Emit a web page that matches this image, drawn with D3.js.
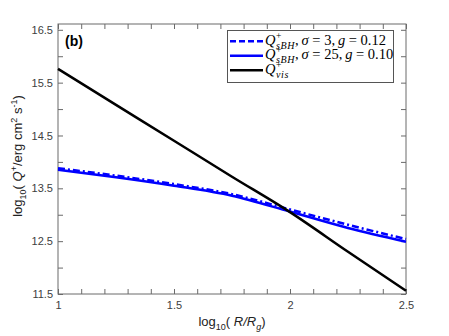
<!DOCTYPE html>
<html>
<head>
<meta charset="utf-8">
<script src="https://cdn.jsdelivr.net/npm/d3@7"></script>
<style>
  body { margin: 0; background: #fff; }
  svg { display: block; }
  .tick text { font-family: "Liberation Sans", Arial, sans-serif; font-size: 11px; fill: #404040; }
</style>
</head>
<body>
<div id="chart"></div>
<script>
// values
var xVis = [1, 1.25, 1.5, 1.75, 2, 2.25, 2.5];
var qVis = [15.76, 15.08, 14.40, 13.72, 13.05, 12.30, 11.56];

var xBH = [1, 1.25, 1.5, 1.75, 2, 2.25, 2.5];
var qBH3 = [13.88, 13.74, 13.58, 13.39, 13.10, 12.81, 12.54];   // sigma = 3, g = 0.12
var qBH25 = [13.85, 13.71, 13.55, 13.36, 13.06, 12.75, 12.49];  // sigma = 25, g = 0.10

var xTicks = [1, 1.5, 2, 2.5];
var yTicks = [11.5, 12.5, 13.5, 14.5, 15.5, 16.5];

var width = 449, height = 336;
var margin = {left: 58, right: 43, top: 24, bottom: 42};
var w = width - margin.left - margin.right,
    h = height - margin.top - margin.bottom;

var svg = d3.select("#chart").append("svg")
    .attr("width", width)
    .attr("height", height);

var g = svg.append("g")
    .attr("transform", "translate(" + margin.left + "," + margin.top + ")");

var x = d3.scaleLinear().domain([1, 2.5]).range([0, w]);
var y = d3.scaleLinear().domain([11.5, 16.61]).range([h, 0]);

var axisColor = "#6a6a6a";

// minor ticks every 0.1 / 0.5
var xMinor = d3.range(1, 2.5001, 0.1);
var yMinor = d3.range(11.5, 16.5001, 0.5);

function styleAxis(sel) {
    sel.select(".domain").remove();
    sel.selectAll(".tick line").attr("stroke", axisColor);
}

// bottom
g.append("g")
    .attr("transform", "translate(0," + h + ")")
    .call(d3.axisBottom(x).tickValues(xMinor).tickSize(-5).tickFormat(""))
    .call(styleAxis);
g.append("g")
    .attr("transform", "translate(0," + h + ")")
    .call(d3.axisBottom(x).tickValues(xTicks).tickSize(0).tickPadding(7).tickFormat(d3.format("")))
    .call(styleAxis);
// top
g.append("g")
    .call(d3.axisTop(x).tickValues(xMinor).tickSize(-5).tickFormat(""))
    .call(styleAxis);
// left
g.append("g")
    .call(d3.axisLeft(y).tickValues(yMinor).tickSize(-5).tickFormat(""))
    .call(styleAxis);
g.append("g")
    .call(d3.axisLeft(y).tickValues(yTicks).tickSize(0).tickPadding(5).tickFormat(d3.format(".1f")))
    .call(styleAxis);
// right
g.append("g")
    .attr("transform", "translate(" + w + ",0)")
    .call(d3.axisRight(y).tickValues(yMinor).tickSize(-5).tickFormat(""))
    .call(styleAxis);

// box
g.append("rect")
    .attr("width", w).attr("height", h)
    .attr("fill", "none")
    .attr("stroke", axisColor)
    .attr("stroke-width", 1);

var line = d3.line()
    .x(function(d) { return x(d[0]); })
    .y(function(d) { return y(d[1]); })
    .curve(d3.curveMonotoneX);

var series = [
    {xs: xBH, ys: qBH25, color: "#0000ff", dash: null},
    {xs: xBH, ys: qBH3, color: "#0000ff", dash: "7,3,2,3"},
    {xs: xVis, ys: qVis, color: "#000000", dash: null}
];

series.forEach(function(s) {
    g.append("path")
        .datum(d3.zip(s.xs, s.ys))
        .attr("d", line)
        .attr("fill", "none")
        .attr("stroke", s.color)
        .attr("stroke-width", 2.5)
        .attr("stroke-dasharray", s.dash);
});

// panel label
svg.append("text")
    .attr("x", 65).attr("y", 46)
    .style("font-family", "Liberation Sans, Arial, sans-serif")
    .style("font-weight", "bold")
    .style("font-size", "14px")
    .text("(b)");

// legend
var lg = svg.append("g");
lg.append("rect")
    .attr("x", 227.5).attr("y", 30.5).attr("width", 166).attr("height", 52)
    .attr("fill", "#fff").attr("stroke", "#555").attr("stroke-width", 1);

var legendItems = [
    {color: "#0000ff", dash: "6,3", sub: "sBH", rest: [[",\u2009", "n"], ["σ", "i"], [" = 3,\u2009", "n"], ["g", "i"], [" = 0.12", "n"]]},
    {color: "#0000ff", dash: null, sub: "sBH", rest: [[",\u2009", "n"], ["σ", "i"], [" = 25,\u2009", "n"], ["g", "i"], [" = 0.10", "n"]]},
    {color: "#000000", dash: null, sub: "vis", rest: []}
];

var serif = "Liberation Serif, Times New Roman, serif";
legendItems.forEach(function(it, i) {
    var cy = 41.3 + i * 14.5;
    lg.append("line")
        .attr("x1", 230).attr("x2", 263)
        .attr("y1", cy).attr("y2", cy)
        .attr("stroke", it.color).attr("stroke-width", 2.5)
        .attr("stroke-dasharray", it.dash);
    var t = lg.append("text")
        .attr("x", 265).attr("y", cy + 3.5)
        .style("font-family", serif).style("font-size", "14.5px");
    t.append("tspan").style("font-style", "italic").text("Q");
    var plus = t.append("tspan").attr("dy", -6).attr("dx", 0.5)
        .style("font-size", "9.5px").text("+");
    var pw = plus.node().getComputedTextLength();
    t.append("tspan").attr("dy", 10).attr("dx", -pw)
        .style("font-size", "10px").style("font-style", "italic")
        .style("letter-spacing", "0.6px").text(it.sub);
    var first = true;
    it.rest.forEach(function(p) {
        var s = t.append("tspan")
            .style("font-style", p[1] == "i" ? "italic" : "normal")
            .text(p[0]);
        if (first) { s.attr("dy", -4); first = false; }
    });
});

// axis labels
var sans = "Liberation Sans, Arial, sans-serif";
var xl = svg.append("text")
    .attr("x", 232).attr("y", 326)
    .attr("text-anchor", "middle")
    .style("font-family", sans).style("font-size", "13px").style("fill", "#222");
xl.append("tspan").text("log");
xl.append("tspan").attr("dy", 4).style("font-size", "9px").text("10");
xl.append("tspan").attr("dy", -4).text("( ");
xl.append("tspan").style("font-style", "italic").text("R/R");
xl.append("tspan").attr("dy", 4).style("font-size", "9px").style("font-style", "italic").text("g");
xl.append("tspan").attr("dy", -4).text(")");

var yl = svg.append("text")
    .attr("transform", "translate(22,156) rotate(-90)")
    .attr("text-anchor", "middle")
    .style("font-family", sans).style("font-size", "13px").style("fill", "#222");
yl.append("tspan").text("log");
yl.append("tspan").attr("dy", 4).style("font-size", "9px").text("10");
yl.append("tspan").attr("dy", -4).text("( ");
yl.append("tspan").style("font-style", "italic").text("Q");
yl.append("tspan").attr("dy", -5).style("font-size", "9px").text("+");
yl.append("tspan").attr("dy", 5).text("/erg cm");
yl.append("tspan").attr("dy", -5).style("font-size", "9px").text("2");
yl.append("tspan").attr("dy", 5).text(" s");
yl.append("tspan").attr("dy", -5).style("font-size", "9px").text("-1");
yl.append("tspan").attr("dy", 5).text(")");
</script>
</body>
</html>
